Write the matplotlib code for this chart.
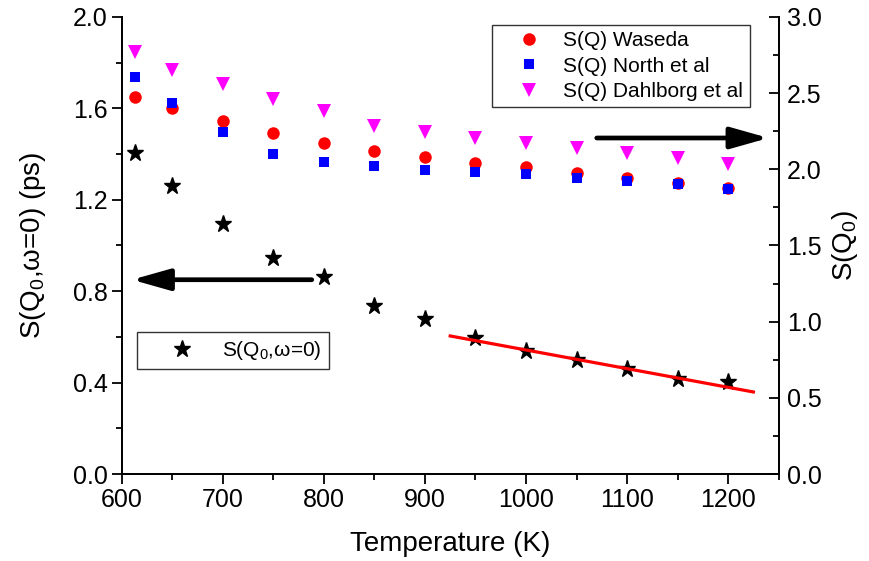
import matplotlib
matplotlib.use('Agg')
import matplotlib.pyplot as plt

plt.rcParams['font.family'] = ['Liberation Sans', 'DejaVu Sans']
plt.rcParams['mathtext.fontset'] = 'custom'
plt.rcParams['mathtext.rm'] = 'Liberation Sans'
plt.rcParams['mathtext.it'] = 'Liberation Sans:italic'

# Data
temp = [613, 650, 700, 750, 800, 850, 900, 950, 1000, 1050, 1100, 1150, 1200]
s_w0 = [1.405, 1.26, 1.094, 0.945, 0.862, 0.735, 0.678, 0.595, 0.538, 0.499, 0.46, 0.416, 0.403]
sq_waseda = [2.475, 2.403, 2.317, 2.238, 2.173, 2.12, 2.081, 2.042, 2.015, 1.976, 1.943, 1.91, 1.877]
sq_north = [2.606, 2.435, 2.245, 2.1, 2.048, 2.022, 1.996, 1.982, 1.969, 1.943, 1.923, 1.904, 1.871]
sq_dahlborg = [2.77, 2.652, 2.56, 2.462, 2.383, 2.284, 2.245, 2.206, 2.173, 2.14, 2.107, 2.074, 2.035]
fit_x = [925, 1225]
fit_y = [0.604, 0.359]

fig = plt.figure(figsize=(8.7, 5.61), dpi=100)
ax1 = fig.add_axes([0.140, 0.155, 0.755, 0.815])
ax2 = ax1.twinx()

star, = ax1.plot(temp, s_w0, linestyle='none', marker='*', color='black', markersize=12.5,
                 label='S(Q$_0$,ω=0)')
ax1.plot(fit_x, fit_y, color='red', linewidth=2.3)

l1, = ax2.plot(temp, sq_waseda, linestyle='none', marker='o', color='red', markersize=9,
               markeredgewidth=0, label='S(Q) Waseda')
l2, = ax2.plot(temp, sq_north, linestyle='none', marker='s', color='blue', markersize=7.5,
               markeredgewidth=0, label='S(Q) North et al')
l3, = ax2.plot(temp, sq_dahlborg, linestyle='none', marker='v', color='magenta', markersize=10,
               markeredgewidth=0, label='S(Q) Dahlborg et al')

# Arrows
arrow_style = dict(arrowstyle='-|>,head_length=2.3,head_width=0.65', color='black', lw=3.4,
                   shrinkA=0, shrinkB=0)
ax1.annotate('', xy=(610, 0.85), xytext=(788, 0.85), arrowprops=arrow_style)
ax2.annotate('', xy=(1240, 2.205), xytext=(1070, 2.205), arrowprops=arrow_style)

# Axes
ax1.set_xlim(600, 1250)
ax1.set_ylim(0, 2.0)
ax2.set_ylim(0, 3.0)
ax1.set_xticks([600, 700, 800, 900, 1000, 1100, 1200])
ax1.set_xticks(range(650, 1251, 100), minor=True)
ax1.set_yticks([0.0, 0.4, 0.8, 1.2, 1.6, 2.0])
ax1.set_yticks([0.2, 0.6, 1.0, 1.4, 1.8], minor=True)
ax2.set_yticks([0.0, 0.5, 1.0, 1.5, 2.0, 2.5, 3.0])
ax2.set_yticks([0.25, 0.75, 1.25, 1.75, 2.25, 2.75], minor=True)
ax1.yaxis.set_major_formatter(matplotlib.ticker.FormatStrFormatter('%.1f'))
ax2.yaxis.set_major_formatter(matplotlib.ticker.FormatStrFormatter('%.1f'))

for a in (ax1, ax2):
    a.spines['top'].set_visible(False)
    for s in a.spines.values():
        s.set_linewidth(1.3)
ax1.tick_params(which='major', direction='out', length=7, width=1.3, labelsize=18, pad=3)
ax1.tick_params(which='minor', direction='out', length=4, width=1.3)
ax2.tick_params(which='major', direction='in', length=7, width=1.3, labelsize=18, pad=6)
ax2.tick_params(which='minor', direction='in', length=4, width=1.3)

ax1.set_xlabel('Temperature (K)', fontsize=20, labelpad=14)
ax1.set_ylabel('S(Q$_0$,ω=0) (ps)', fontsize=20, labelpad=18)
ax2.set_ylabel('S(Q$_0$)', fontsize=20, labelpad=6)

leg1 = ax2.legend(handles=[l1, l2, l3], loc='upper left', bbox_to_anchor=(0.563, 0.982),
                  borderaxespad=0, fontsize=15, frameon=True, fancybox=False, edgecolor='black',
                  borderpad=0.3, labelspacing=0.3, handletextpad=0.15, handlelength=3.0)
leg1.get_frame().set_linewidth(1.0)
leg2 = ax2.legend(handles=[star], loc='upper left', bbox_to_anchor=(0.023, 0.311),
                  borderaxespad=0, fontsize=15, frameon=True, fancybox=False, edgecolor='black',
                  borderpad=0.35, handletextpad=0.15, handlelength=3.6)
leg2.get_frame().set_linewidth(1.0)
ax2.add_artist(leg1)

fig.savefig('out.png', dpi=100)
